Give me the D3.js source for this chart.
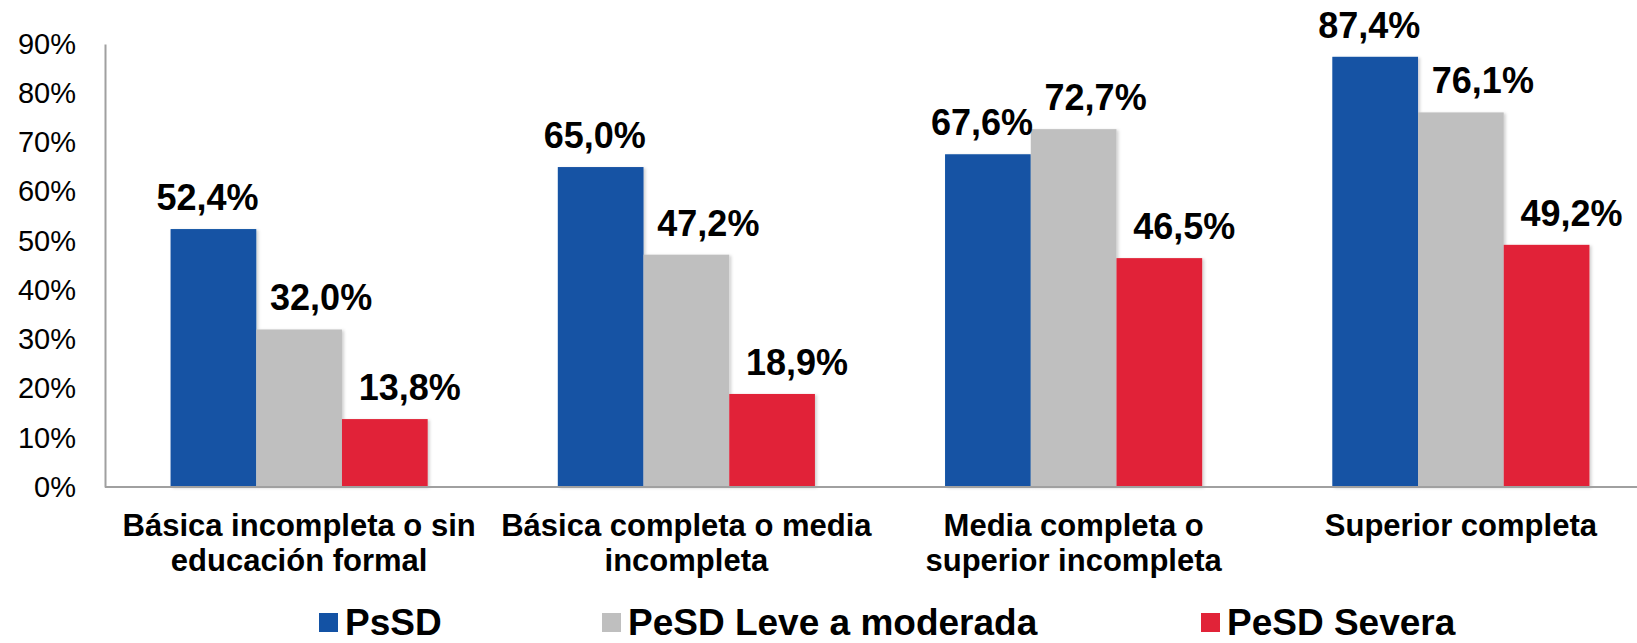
<!DOCTYPE html>
<html>
<head>
<meta charset="utf-8">
<script src="https://cdn.jsdelivr.net/npm/d3@7"></script>
<style>
  body { margin: 0; background: #fff; }
  text { font-family: "Liberation Sans", Arial, sans-serif; fill: #000; }
</style>
</head>
<body>
<div id="chart"></div>
<script>
// DATA
// -----------------------------------------------------------------------------
const categories = [
  ["Básica incompleta o sin", "educación formal"],
  ["Básica completa o media", "incompleta"],
  ["Media completa o", "superior incompleta"],
  ["Superior completa"]
];
const seriesNames = ["PsSD", "PeSD Leve a moderada", "PeSD Severa"];
const psSD = [52.4, 65.0, 67.6, 87.4];
const pesdLeve = [32.0, 47.2, 72.7, 76.1];
const pesdSevera = [13.8, 18.9, 46.5, 49.2];
const yTicks = [0, 10, 20, 30, 40, 50, 60, 70, 80, 90];

const seriesValues = [psSD, pesdLeve, pesdSevera];
const colors = ["#1352a4", "#bfbfbf", "#e12338"];

// LAYOUT
// -----------------------------------------------------------------------------
const width = 1637, height = 643;
const labelNudge = [-6, 22, 25];       // value labels sit a bit off-centre in the original
const legendX = [319, 602, 1201];

const svg = d3.select("#chart").append("svg")
  .attr("width", width)
  .attr("height", height);

const defs = svg.append("defs");
const shadow = defs.append("filter").attr("id", "shadow")
  .attr("x", "-10%").attr("y", "-5%").attr("width", "130%").attr("height", "110%");
shadow.append("feDropShadow")
  .attr("dx", 2).attr("dy", 1).attr("stdDeviation", 1.5)
  .attr("flood-color", "#000").attr("flood-opacity", 0.18);

// SCALES
// -----------------------------------------------------------------------------
const x0 = d3.scaleBand()
  .domain(d3.range(categories.length))
  .range([105.5, 1654.5])
  .paddingInner(0.336)
  .paddingOuter(0.168);

const x1 = d3.scaleBand()
  .domain(d3.range(seriesNames.length))
  .range([0, x0.bandwidth()]);

const y = d3.scaleLinear().domain([0, 90]).range([487, 44]);

const fmt = v => d3.format(".1f")(v).replace(".", ",") + "%";

// BARS
// -----------------------------------------------------------------------------
const groups = svg.append("g").selectAll("g")
  .data(categories)
  .join("g")
  .attr("transform", (d, i) => `translate(${x0(i)},0)`);

groups.selectAll("rect")
  .data((d, i) => seriesValues.map((s, k) => ({ k, v: s[i] })))
  .join("rect")
  .attr("x", d => x1(d.k))
  .attr("y", d => y(d.v))
  .attr("width", x1.bandwidth())
  .attr("height", d => y(0) - y(d.v))
  .attr("fill", d => colors[d.k])
  .attr("filter", "url(#shadow)");

groups.selectAll("text.val")
  .data((d, i) => seriesValues.map((s, k) => ({ k, v: s[i] })))
  .join("text")
  .attr("class", "val")
  .attr("x", d => x1(d.k) + x1.bandwidth() / 2 + labelNudge[d.k])
  .attr("y", d => y(d.v) - 19)
  .attr("text-anchor", "middle")
  .style("font-size", "36px")
  .style("font-weight", "bold")
  .text(d => fmt(d.v));

// AXES
// -----------------------------------------------------------------------------
const yAxis = svg.append("g")
  .attr("transform", "translate(105,0)")
  .call(d3.axisLeft(y).tickValues(yTicks).tickSize(0).tickPadding(29).tickFormat(d => d + "%"));
yAxis.select(".domain").attr("stroke", "#a0a0a0").attr("stroke-width", 2);
yAxis.selectAll("text")
  .style("font-size", "29px")
  .style("font-family", "'Liberation Sans', Arial, sans-serif")
  .attr("fill", "#000");

svg.append("line")
  .attr("x1", 105).attr("x2", width)
  .attr("y1", y(0)).attr("y2", y(0))
  .attr("stroke", "#a0a0a0").attr("stroke-width", 2);

// category labels
svg.append("g").selectAll("text")
  .data(categories)
  .join("text")
  .attr("x", (d, i) => x0(i) + x0.bandwidth() / 2)
  .attr("y", 536)
  .attr("text-anchor", "middle")
  .style("font-size", "31px")
  .style("font-weight", "bold")
  .selectAll("tspan")
  .data(d => d)
  .join("tspan")
  .attr("x", function () { return this.parentNode.getAttribute("x"); })
  .attr("dy", (d, i) => i === 0 ? 0 : 35)
  .text(d => d);

// LEGEND
// -----------------------------------------------------------------------------
const legend = svg.append("g").selectAll("g")
  .data(seriesNames)
  .join("g")
  .attr("transform", (d, i) => `translate(${legendX[i]},0)`);

legend.append("rect")
  .attr("x", 0).attr("y", 613)
  .attr("width", 19).attr("height", 19)
  .attr("fill", (d, i) => colors[i]);

legend.append("text")
  .attr("x", 26).attr("y", 635)
  .style("font-size", "37px")
  .style("font-weight", "bold")
  .text(d => d);
</script>
</body>
</html>
